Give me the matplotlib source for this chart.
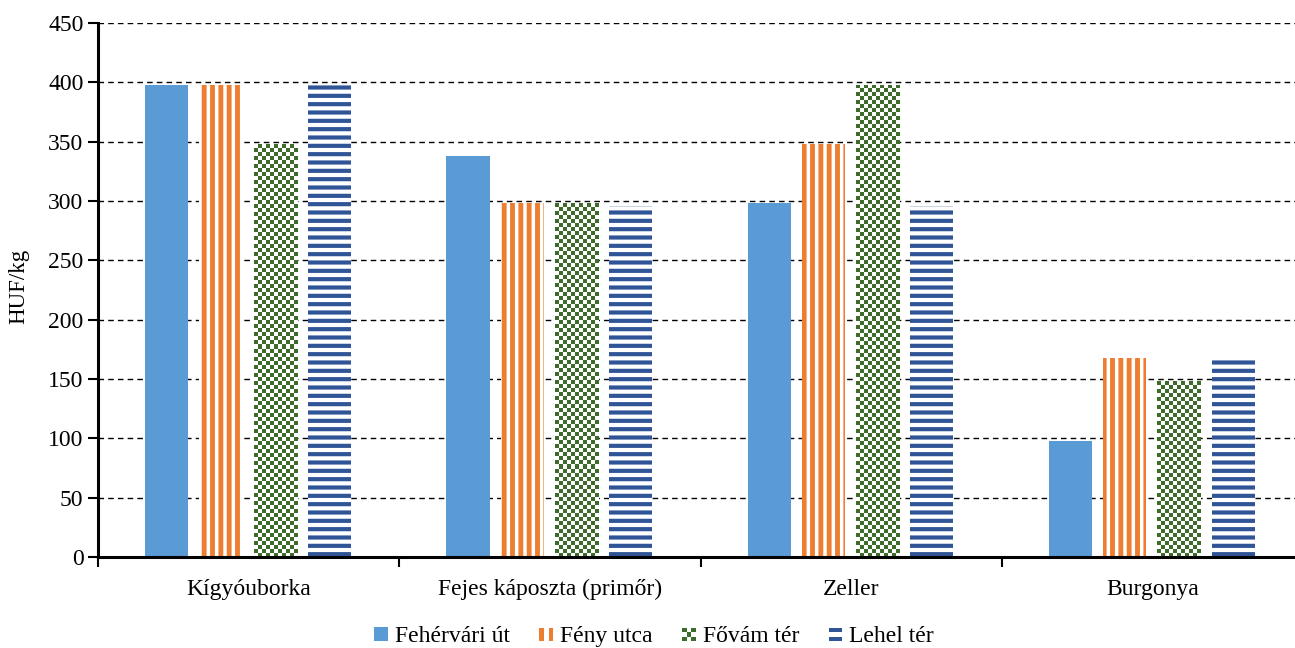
import matplotlib.pyplot as plt
import matplotlib as mpl
from matplotlib.patches import Patch, Rectangle
from matplotlib.legend_handler import HandlerBase
import numpy as np

categories = ["Kígyóuborka", "Fejes káposzta (primőr)", "Zeller", "Burgonya"]
series_names = ["Fehérvári út", "Fény utca", "Fővám tér", "Lehel tér"]
fehervari = [398, 338, 298, 98]
feny = [398, 298, 348, 168]
fovam = [348, 298, 398, 148]
lehel = [398, 296, 296, 166]

plt.rcParams['font.family'] = ['Liberation Serif', 'DejaVu Serif']

# facecolor, hatch, hatch colour, hatch linewidth
styles = [
    ("#5B9BD5", None, "#5B9BD5", 1.0),
    ("white", "||", "#ED7D31", 3.5),
    ("white", "xxxx", "#3D6B2A", 1.5),
    ("white", "--", "#2F5597", 3.0),
]
green = "#3D6B2A"


class HandlerChecker(HandlerBase):
    # small checkerboard square for the legend
    def create_artists(self, legend, orig_handle, xdescent, ydescent, width, height, fontsize, trans):
        n = 3
        side = min(width, height)
        cs = side / n
        arts = []
        for i in range(n):
            for j in range(n):
                if (i + j) % 2 == 0:
                    arts.append(Rectangle((-xdescent + i * cs, -ydescent + j * cs), cs, cs,
                                          facecolor=green, edgecolor="none", transform=trans))
        return arts


class HandlerStripes(HandlerBase):
    # two thick stripes, vertical or horizontal
    def __init__(self, color, vertical):
        super().__init__()
        self.color = color
        self.vertical = vertical

    def create_artists(self, legend, orig_handle, xdescent, ydescent, width, height, fontsize, trans):
        side = min(width, height)
        x0, y0 = -xdescent, -ydescent
        t = side * 0.32
        arts = []
        for k in (0, 1):
            pos = k * (side - t)
            if self.vertical:
                r = Rectangle((x0 + pos, y0), t, side, facecolor=self.color, edgecolor="none", transform=trans)
            else:
                r = Rectangle((x0, y0 + pos), side, t, facecolor=self.color, edgecolor="none", transform=trans)
            arts.append(r)
        return arts


fig = plt.figure(figsize=(12.95, 6.48), dpi=100)
ax = fig.add_axes([0.0757, 0.1404, 0.9305, 0.8241])

x = np.arange(len(categories))
offsets = [-0.272, -0.092, 0.088, 0.268]
width = 0.143
all_vals = [fehervari, feny, fovam, lehel]

ax.set_axisbelow(True)
ax.yaxis.grid(True, linestyle=(0, (4, 3)), color="black", linewidth=1)
ax.set_xlim(-0.5, len(categories) - 0.5)
ax.set_ylim(0, 450)

bar_groups = []
for vals, off, (fc, hatch, hc, hlw), name in zip(all_vals, offsets, styles, series_names):
    with mpl.rc_context({'hatch.linewidth': hlw}):
        bars = ax.bar(x + off, vals, width, facecolor=fc, hatch=hatch, edgecolor=hc,
                      linewidth=0, label=name)
        for b in bars:
            if hasattr(b, "set_hatch_linewidth"):
                b.set_hatch_linewidth(hlw)
    bar_groups.append(bars)

# checkerboard fill for the Fővám tér bars
fig.canvas.draw()
cell_px = 4.0
cmap = mpl.colors.ListedColormap(["white", green])
for b in bar_groups[2]:
    bb = b.get_window_extent()
    ncol = max(1, int(round(bb.width / cell_px)))
    nrow = max(1, int(round(bb.height / cell_px)))
    board = (np.add.outer(np.arange(nrow), np.arange(ncol)) % 2).astype(float)
    im = ax.imshow(board, cmap=cmap, vmin=0, vmax=1, interpolation="nearest",
                   extent=(b.get_x(), b.get_x() + b.get_width(), 0, b.get_height()),
                   origin="lower", aspect="auto", zorder=b.get_zorder() + 0.1)
    im.set_clip_path(b)
ax.set_xlim(-0.5, len(categories) - 0.5)
ax.set_ylim(0, 450)

ax.set_yticks(range(0, 451, 50))
ax.set_xticks(x)
ax.set_xticklabels(categories, fontsize=17)
ax.tick_params(axis='x', length=0, pad=16)
ax.set_xticks(np.arange(-0.5, len(categories), 1), minor=True)
ax.tick_params(axis='x', which='minor', length=7, width=1.5, direction='out')
ax.tick_params(axis='y', labelsize=17, length=7, width=1.5)
for s in ["top", "right"]:
    ax.spines[s].set_visible(False)
ax.spines["left"].set_linewidth(2.2)
ax.spines["bottom"].set_linewidth(2.2)
ax.set_ylabel("HUF/kg", fontsize=16.5)
ax.yaxis.set_label_coords(-0.057, 0.507)

handles = [Patch(facecolor=fc, edgecolor="none", label=n)
           for (fc, h, hc, hlw), n in zip(styles, series_names)]
fig.legend(handles=handles, loc="lower center", bbox_to_anchor=(0.505, -0.032), ncol=4,
           frameon=False, fontsize=17, handlelength=0.58, handleheight=0.58,
           handletextpad=0.3, columnspacing=1.25,
           handler_map={handles[1]: HandlerStripes("#ED7D31", True),
                        handles[2]: HandlerChecker(),
                        handles[3]: HandlerStripes("#2F5597", False)})

fig.savefig("out.png", dpi=100)
